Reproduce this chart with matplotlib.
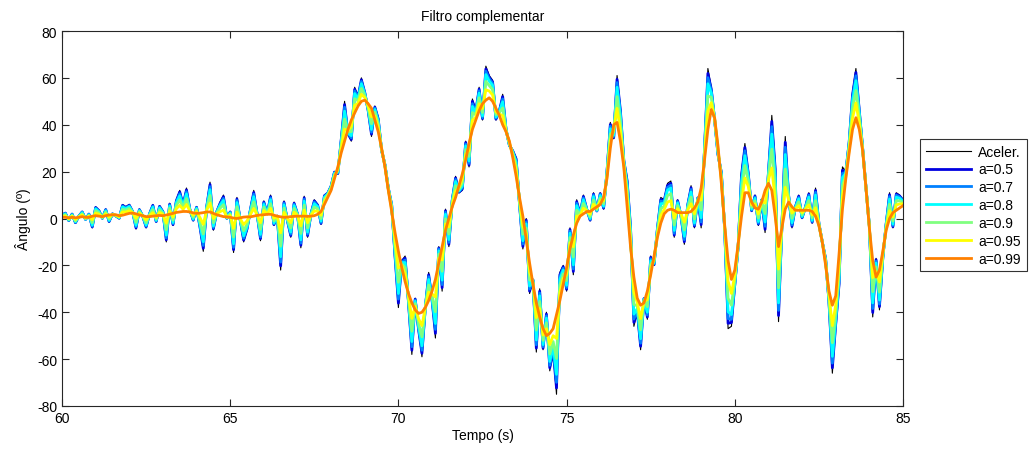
import numpy as np
import matplotlib
matplotlib.use("Agg")
import matplotlib.pyplot as plt

plt.rcParams['font.family'] = ['Liberation Sans', 'DejaVu Sans']
plt.rcParams['axes.unicode_minus'] = False

# amostras a cada 0.1 s, de 60 s ate 85 s
t_inicio = 60.0
dt = 0.1

aceler = [
    1.5, 2.5, -1, 2, -2, 1, 3, -0.5, 2, -4,
    5, 3.5, 0, 4, -1.5, 2, 1, 0, 6, 5,
    6, 3, -4.5, 4, 1, -4, 2, 6, -1.5, 5.5,
    3, -10, 6.5, -3, 8, 12, 6, 13, 4, -1,
    5, -4, -14, 5, 15.5, -5, 3, 7, 10, 0,
    3, -14.5, 9, -1, -10, -5, 4, 12, 2, -9.5,
    7.5, 2, 10, -3, 1, -22, 7.5, -1, -8, 7,
    2, -12.5, 9.5, -8, 2, 8, 6, -2.5, 10, 11,
    14, 20, 19, 34, 50, 36, 33, 56, 52, 60,
    54, 46, 35, 48, 43, 29, 23, 13, 6, -17,
    -38, -18, -16, -36, -58, -34, -48, -59, -38, -23,
    -35, -51, -12, -31, 4, -12, 8, 18, 11, 12,
    33, 22, 51, 46, 56, 42, 65, 61, 59, 42,
    46, 53, 38, 31, 29, 26, 6, -13, 0, -32,
    -26, -57, -30, -56, -40, -65, -57, -75, -23, -20,
    -31, -4, -24, 8, 2, 10, 4, -1, 11, 3,
    11, 4, 20, 41, 34, 61, 47, 25, 17, -3,
    -46, -40, -56, -34, -43, -16, -20, -4, 9, 8,
    15, 16, -8, 8, 1, -11, 6, 14, -4, 9,
    -4, 30, 64, 56, 42, 27, 20, -5, -47, -46,
    -29, -12, 20, 32, 20, 3, 10, -3, 8, -6,
    20, 44, 23, -44, -3, 35, 10, -4, 5, 10,
    0, 5, 11, -2, 13, -2, -10, -17, -36, -66,
    -46, -29, 22, 20, 33, 54, 64, 47, 30, 13,
    -3, -42, -17, -39, -17, -2, 11, -4, 11, 10,
    8]

a05 = [
    1.4, 2.3, -0.9, 1.9, -1.8, 1, 2.8, -0.4, 1.9, -3.6,
    4.7, 3.3, 0.1, 3.8, -1.3, 2, 1.1, 0.1, 5.6, 4.7,
    5.7, 2.9, -4, 3.8, 1, -3.6, 1.9, 5.6, -1.3, 5.2,
    2.9, -9.1, 6.1, -2.6, 7.6, 11.3, 5.8, 12.2, 3.9, -0.7,
    4.8, -3.5, -12.7, 4.8, 14.5, -4.4, 2.9, 6.5, 9.3, 0.1,
    2.8, -13.3, 8.3, -0.9, -9.2, -4.5, 3.7, 11.1, 1.9, -8.6,
    7, 2, 9.3, -2.6, 1, -20.2, 6.9, -0.9, -7.3, 6.5,
    1.9, -11.4, 8.8, -7.3, 1.9, 7.5, 5.7, -2.1, 9.7, 10.8,
    13.8, 19.8, 19.2, 33.5, 48.6, 36.2, 33.7, 55.1, 51.7, 59.2,
    53.7, 46.2, 36, 47.5, 42.5, 29.1, 22.9, 12.9, 5.8, -16.1,
    -36.1, -18.2, -16.9, -35.7, -56.2, -34.4, -47.4, -57.5, -38, -24,
    -34.7, -49, -12.6, -29.5, 3.3, -11, 7.8, 17.3, 11.2, 12.6,
    32.4, 22.8, 50, 45.7, 55.2, 42.6, 63.8, 60.2, 58.3, 42.4,
    45.8, 52, 37.9, 31.2, 28.8, 25.4, 6.2, -11.9, -0.7, -31,
    -26.2, -55.3, -31, -55.3, -40.8, -63.7, -56.2, -72.3, -24, -20.6,
    -30.2, -4.7, -22.6, 7.2, 1.9, 9.4, 3.9, -0.7, 10.4, 3.2,
    10.6, 4.4, 19.8, 40.1, 34.5, 59.4, 45.9, 24.8, 16, -3.7,
    -44.3, -39.5, -54.5, -34.2, -42, -16.6, -19.7, -4.3, 8.1, 7.5,
    14.1, 15, -7.1, 7.6, 1.1, -9.9, 5.7, 13.1, -3.3, 8.8,
    -2.6, 29.6, 61.9, 55.2, 42.1, 27.3, 19.6, -4.8, -44.7, -44.4,
    -28.4, -11.9, 18.5, 30.3, 19.3, 3.3, 9.6, -2.4, 7.9, -4.6,
    19.6, 41.4, 21.2, -41.4, -3.1, 32.5, 9.8, -3.3, 4.9, 9.5,
    0.3, 4.9, 10.4, -1.6, 12, -2.1, -10, -17.2, -35.6, -63.7,
    -45, -27.9, 20.6, 19.8, 32.6, 52.7, 62.3, 46.3, 29.9, 13,
    -3.1, -40.1, -17.6, -37.6, -16.8, -2.2, 10.1, -3.5, 10.4, 9.6,
    7.8]

a07 = [
    1.4, 2.2, -0.8, 1.8, -1.7, 0.9, 2.7, -0.4, 1.8, -3.3,
    4.4, 3.1, 0.1, 3.6, -1.1, 1.9, 1.1, 0.2, 5.3, 4.5,
    5.4, 2.9, -3.5, 3.6, 1, -3.3, 1.8, 5.3, -1.1, 4.9,
    2.7, -8.3, 5.8, -2.2, 7.2, 10.6, 5.6, 11.5, 3.8, -0.5,
    4.6, -3.1, -11.5, 4.7, 13.6, -3.9, 2.8, 6.1, 8.6, 0.1,
    2.6, -12.3, 7.7, -0.8, -8.4, -4.1, 3.5, 10.4, 1.9, -7.9,
    6.6, 2, 8.8, -2.3, 1, -18.6, 6.5, -0.8, -6.7, 6.1,
    1.9, -10.5, 8.2, -6.7, 1.9, 7, 5.4, -1.7, 9.4, 10.7,
    13.7, 19.6, 19.4, 33.1, 47.5, 36.3, 34.4, 54.4, 51.4, 58.5,
    53.5, 46.5, 36.8, 47.1, 42.1, 29.2, 22.9, 12.9, 5.6, -15.4,
    -34.4, -18.5, -17.7, -35.4, -54.7, -34.8, -46.9, -56.2, -38, -24.8,
    -34.4, -47.3, -13, -28.2, 2.7, -10.2, 7.6, 16.7, 11.5, 13.1,
    31.8, 23.5, 49, 45.4, 54.5, 43, 62.8, 59.6, 57.7, 42.8,
    45.7, 51, 37.9, 31.3, 28.6, 24.8, 6.5, -10.9, -1.4, -30.1,
    -26.3, -53.9, -31.8, -54.7, -41.5, -62.6, -55.5, -69.9, -24.8, -21.2,
    -29.5, -5.4, -21.5, 6.5, 1.9, 8.8, 3.9, -0.4, 10, 3.3,
    10.3, 4.8, 19.6, 39.4, 34.9, 58, 44.9, 24.6, 15.2, -4.4,
    -42.9, -39.1, -53.2, -34.3, -41.2, -17.2, -19.4, -4.6, 7.4, 7.1,
    13.3, 14.2, -6.3, 7.2, 1.2, -9, 5.5, 12.4, -2.7, 8.7,
    -1.5, 29.3, 60.1, 54.6, 42.2, 27.6, 19.3, -4.7, -42.7, -43,
    -28, -11.9, 17.2, 28.9, 18.7, 3.6, 9.2, -2, 7.9, -3.3,
    19.3, 39.2, 19.7, -39.2, -3.2, 30.4, 9.6, -2.7, 4.8, 9,
    0.5, 4.8, 9.9, -1.3, 11.2, -2.2, -10, -17.5, -35.3, -61.7,
    -44.1, -26.9, 19.3, 19.6, 32.3, 51.6, 60.9, 45.7, 29.9, 13,
    -3.2, -38.4, -18.2, -36.5, -16.6, -2.5, 9.4, -3, 9.9, 9.2,
    7.6]

a08 = [
    1.3, 2, -0.7, 1.6, -1.4, 0.9, 2.5, -0.3, 1.6, -2.8,
    4.1, 2.9, 0.2, 3.3, -0.8, 1.9, 1.2, 0.3, 4.9, 4.2,
    5.1, 2.8, -2.9, 3.4, 1, -2.8, 1.7, 4.8, -0.8, 4.5,
    2.6, -7.1, 5.3, -1.7, 6.7, 9.7, 5.3, 10.5, 3.7, -0.2,
    4.3, -2.4, -9.9, 4.5, 12.3, -3.2, 2.7, 5.6, 7.7, 0.2,
    2.4, -10.8, 6.8, -0.7, -7.4, -3.6, 3.2, 9.3, 1.8, -6.8,
    6, 2, 8, -1.9, 1, -16.3, 5.8, -0.6, -5.8, 5.5,
    1.8, -9.1, 7.4, -5.8, 1.8, 6.3, 5, -1.1, 9, 10.5,
    13.5, 19.3, 19.8, 32.5, 45.8, 36.5, 35.3, 53.3, 51, 57.5,
    53.1, 46.8, 38, 46.5, 41.5, 29.3, 22.8, 12.8, 5.3, -14.3,
    -32, -18.8, -18.8, -35, -52.5, -35.3, -46.1, -54.3, -38, -26,
    -34, -44.8, -13.8, -26.3, 1.8, -9, 7.3, 15.8, 11.8, 13.8,
    31, 24.5, 47.8, 45, 53.5, 43.8, 61.4, 58.6, 56.8, 43.3,
    45.5, 49.8, 37.8, 31.5, 28.3, 24, 6.8, -9.5, -2.3, -28.8,
    -26.5, -51.8, -33, -53.8, -42.5, -61, -54.5, -66.5, -26, -22,
    -28.5, -6.3, -19.8, 5.5, 1.8, 8, 3.8, 0, 9.3, 3.5,
    9.8, 5.3, 19.3, 38.3, 35.5, 56, 43.5, 24.3, 14, -5.3,
    -40.8, -38.5, -51.3, -34.5, -40, -18, -19, -5, 6.3, 6.5,
    12.1, 13, -5.1, 6.6, 1.4, -7.6, 5.1, 11.3, -1.9, 8.5,
    0.3, 28.8, 57.5, 53.6, 42.3, 28, 18.8, -4.5, -39.8, -41,
    -27.3, -11.8, 15.3, 26.8, 17.8, 4, 8.6, -1.3, 7.8, -1.5,
    18.8, 36, 17.5, -36, -3.3, 27.3, 9.3, -1.8, 4.6, 8.4,
    0.9, 4.6, 9.1, -0.8, 10, -2.3, -10, -17.8, -34.8, -58.8,
    -42.8, -25.5, 17.5, 19.3, 31.8, 50, 58.8, 44.8, 29.8, 13,
    -3.3, -36, -19, -34.8, -16.3, -2.8, 8.3, -2.4, 9.1, 8.6,
    7.4]

a09 = [
    1.1, 1.6, -0.4, 1.3, -1, 0.8, 2, -0.1, 1.3, -1.8,
    3.3, 2.4, 0.4, 2.7, -0.2, 1.8, 1.3, 0.5, 3.9, 3.6,
    4.3, 2.7, -1.6, 2.9, 1.1, -1.8, 1.5, 3.8, -0.3, 3.6,
    2.2, -4.8, 4.4, -0.7, 5.6, 7.9, 4.7, 8.5, 3.5, 0.5,
    3.7, -1.2, -6.6, 4, 9.8, -1.8, 2.4, 4.4, 5.9, 0.3,
    1.9, -7.9, 5, -0.4, -5.2, -2.4, 2.5, 7.1, 1.7, -4.6,
    4.8, 1.9, 6.3, -1, 1, -11.8, 4.4, -0.3, -4, 4.3,
    1.6, -6.4, 5.7, -4, 1.6, 4.9, 4.1, 0, 8.2, 10.1,
    13.1, 18.7, 20.4, 31.3, 42.4, 36.9, 37.1, 51.1, 50.2, 55.5,
    52.4, 47.4, 40.4, 45.3, 40.3, 29.5, 22.6, 12.6, 4.7, -12.1,
    -27.2, -19.4, -21, -34.2, -48.1, -36.3, -44.6, -50.5, -38, -28.4,
    -33.2, -39.8, -15.2, -22.5, -0.1, -6.6, 6.7, 14, 12.4, 15.2,
    29.4, 26.5, 45.2, 44.2, 51.5, 45.2, 58.5, 56.7, 55, 44.3,
    45.1, 47.2, 37.6, 31.9, 27.7, 22.4, 7.4, -6.7, -4.1, -26.2,
    -26.9, -47.6, -35.4, -52, -44.5, -57.8, -52.5, -59.7, -28.4, -23.6,
    -26.5, -8.1, -16.4, 3.5, 1.6, 6.4, 3.6, 0.8, 7.9, 3.9,
    8.8, 6.3, 18.7, 36.1, 36.7, 52, 40.7, 23.7, 11.6, -7.1,
    -36.6, -37.3, -47.5, -34.9, -37.6, -19.6, -18.2, -5.8, 4.1, 5.3,
    9.8, 10.6, -2.8, 5.5, 1.7, -4.9, 4.4, 9.1, -0.2, 8.1,
    3.7, 27.8, 52.3, 51.7, 42.5, 28.8, 17.8, -4.1, -34, -37,
    -25.9, -11.6, 11.5, 22.6, 16, 4.8, 7.5, 0.2, 7.6, 2.1,
    17.8, 29.6, 13.1, -29.6, -3.5, 21.1, 8.7, 0.1, 4.3, 7.1,
    1.6, 4.3, 7.6, 0.3, 7.6, -2.5, -10, -18.4, -33.8, -53,
    -40.2, -22.7, 13.9, 18.7, 30.8, 46.8, 54.6, 43, 29.6, 13,
    -3.5, -31.2, -20.6, -31.4, -15.7, -3.4, 6.1, -1.1, 7.6, 7.5,
    6.9]

a095 = [
    0.8, 1.1, -0.1, 1, -0.4, 0.7, 1.5, 0.2, 1, -0.5,
    2.3, 1.8, 0.6, 2, 0.6, 1.7, 1.4, 0.8, 2.8, 2.8,
    3.3, 2.5, 0.1, 2.3, 1.1, -0.6, 1.2, 2.5, 0.4, 2.6,
    1.7, -2, 3.2, 0.6, 4.2, 5.6, 3.9, 6, 3.2, 1.4,
    3, 0.4, -2.5, 3.5, 6.6, 0, 2, 2.9, 3.6, 0.5,
    1.3, -4.2, 2.7, -0.1, -2.6, -1, 1.7, 4.3, 1.5, -1.8,
    3.4, 1.9, 4.3, 0.1, 1, -6.1, 2.6, 0.1, -1.8, 2.7,
    1.3, -3.1, 3.6, -1.8, 1.3, 3.2, 3.1, 1.4, 7.2, 9.6,
    12.6, 17.9, 21.1, 29.8, 38.1, 37.4, 39.3, 48.3, 49.2, 53,
    51.6, 48.1, 43.4, 43.8, 38.8, 29.7, 22.3, 12.3, 3.9, -9.3,
    -21.2, -20.1, -23.7, -33.2, -42.6, -37.5, -42.8, -45.7, -38, -31.4,
    -32.2, -33.5, -16.9, -17.7, -2.3, -3.6, 5.9, 11.7, 13.1, 16.9,
    27.4, 29, 41.9, 43.2, 49, 46.9, 54.9, 54.4, 52.7, 45.5,
    44.6, 43.9, 37.3, 32.4, 26.9, 20.4, 8.1, -3.2, -6.3, -22.9,
    -27.4, -42.3, -38.4, -49.7, -47, -53.8, -50, -51.2, -31.4, -25.6,
    -24, -10.3, -12.1, 1, 1.3, 4.4, 3.3, 1.8, 6.1, 4.4,
    7.5, 7.5, 17.9, 33.3, 38.2, 47, 37.2, 22.9, 8.6, -9.3,
    -31.3, -35.8, -42.7, -35.4, -34.6, -21.6, -17.2, -6.8, 1.3, 3.8,
    7, 7.6, 0.1, 4.2, 2.1, -1.6, 3.6, 6.3, 2, 7.6,
    7.9, 26.5, 45.8, 49.4, 42.7, 29.8, 16.5, -3.6, -26.7, -32,
    -24.1, -11.3, 6.7, 17.3, 13.7, 5.8, 6.2, 1.9, 7.3, 6.6,
    16.5, 21.6, 7.6, -21.6, -3.7, 13.3, 7.9, 2.3, 4, 5.5,
    2.5, 4, 5.8, 1.5, 4.6, -2.7, -10, -19.1, -32.5, -45.7,
    -36.9, -19.2, 9.4, 17.9, 29.5, 42.8, 49.3, 40.7, 29.3, 13,
    -3.7, -25.2, -22.6, -27.1, -14.9, -4.1, 3.3, 0.6, 5.8, 6.2,
    6.3]

a099 = [
    0.5, 0.5, 0.3, 0.5, 0.3, 0.5, 0.8, 0.5, 0.5, 1.0,
    1.2, 1.0, 0.8, 1.2, 1.5, 1.6, 1.6, 1.2, 1.4, 1.8,
    2.2, 2.3, 2.0, 1.5, 1.2, 0.8, 0.8, 1.0, 1.2, 1.3,
    1.2, 1.5, 1.8, 2.2, 2.6, 2.8, 3.0, 3.0, 2.8, 2.4,
    2.2, 2.3, 2.5, 2.8, 2.8, 2.2, 1.6, 1.2, 0.8, 0.7,
    0.5, 0.2, 0.0, 0.3, 0.6, 0.7, 0.7, 1.0, 1.3, 1.5,
    1.6, 1.8, 1.8, 1.4, 1.0, 0.7, 0.5, 0.6, 0.8, 0.9,
    1.0, 1.0, 1.0, 0.9, 1.0, 1.2, 1.8, 3.0, 6.0, 9.0,
    12, 17, 22, 28, 33, 38, 42, 45, 48, 50,
    50.5, 49, 47, 42, 37, 30, 22, 12, 3, -6,
    -14, -21, -27, -32, -36, -39, -40.5, -40, -38, -35,
    -31, -26, -19, -12, -5, 0, 5, 9, 14, 19,
    25, 32, 38, 42, 46, 49, 50.5, 51.5, 50, 47,
    44, 40, 37, 33, 26, 18, 9, 1, -9, -19,
    -28, -36, -42, -47, -50, -49, -47, -41, -35, -28,
    -21, -13, -7, -2, 1, 2, 3, 3, 4, 5,
    6, 9, 17, 30, 40, 41, 33, 22, 5, -12,
    -25, -34, -37, -36, -31, -24, -16, -8, -2, 2,
    3.5, 4, 3.5, 2.5, 2.5, 2.5, 2.5, 3, 4.5, 7,
    13, 25, 38, 46.5, 43, 31, 15, -3, -18, -26,
    -22, -11, 1, 11, 11, 7, 4.5, 4, 7, 12,
    15, 12, 1, -12, -4, 4, 7, 5, 3.5, 3.5,
    3.5, 3.5, 3.5, 3, 1, -3, -10, -20, -31, -37,
    -33, -15, 4, 17, 28, 38, 43, 38, 29, 13,
    -4, -18, -25, -22, -14, -5, 0, 2.5, 3.5, 4.5,
    5.5]

rotulos = ['Aceler.', 'a=0.5', 'a=0.7', 'a=0.8', 'a=0.9', 'a=0.95', 'a=0.99']
cores = ['black', '#0000E0', '#0080FF', '#00FFFF', '#80FF80', '#FFFF00', '#FF8000']
series = [aceler, a05, a07, a08, a09, a095, a099]

tempo = t_inicio + dt*np.arange(len(aceler))

fig = plt.figure(figsize=(10.35, 4.52), dpi=100)
ax = fig.add_axes([62/1035, 1-407/452, (903-62)/1035, (407-32)/452])

linhas = []
for (i, s) in enumerate(series):
    lw = 0.8 if i == 0 else 2.0
    l, = ax.plot(tempo, s, color=cores[i], lw=lw, label=rotulos[i])
    linhas.append(l)

ax.set_xlim(60, 85)
ax.set_ylim(-80, 80)
ax.set_xticks(np.arange(60, 86, 5))
ax.set_yticks(np.arange(-80, 81, 20))
ax.tick_params(direction='in', length=5, width=0.8, top=True, right=True,
               labelsize=10, colors='#262626', labelcolor='black')
for sp in ax.spines.values():
    sp.set_color('#262626')
    sp.set_linewidth(0.8)

ax.set_title("Filtro complementar", fontsize=10, pad=8)
ax.set_xlabel("Tempo (s)", fontsize=10, labelpad=2)
ax.set_ylabel("Ângulo (º)", fontsize=10, labelpad=4)

leg = fig.legend(handles=linhas, loc='upper left', bbox_to_anchor=(920/1035, 1-140/452),
                 fontsize=10, frameon=True, fancybox=False, shadow=False,
                 handlelength=3.3, handletextpad=0.5, labelspacing=0.28,
                 borderpad=0.4, borderaxespad=0)
leg.get_frame().set_edgecolor('black')
leg.get_frame().set_linewidth(0.8)

fig.savefig("out.png", dpi=100)
